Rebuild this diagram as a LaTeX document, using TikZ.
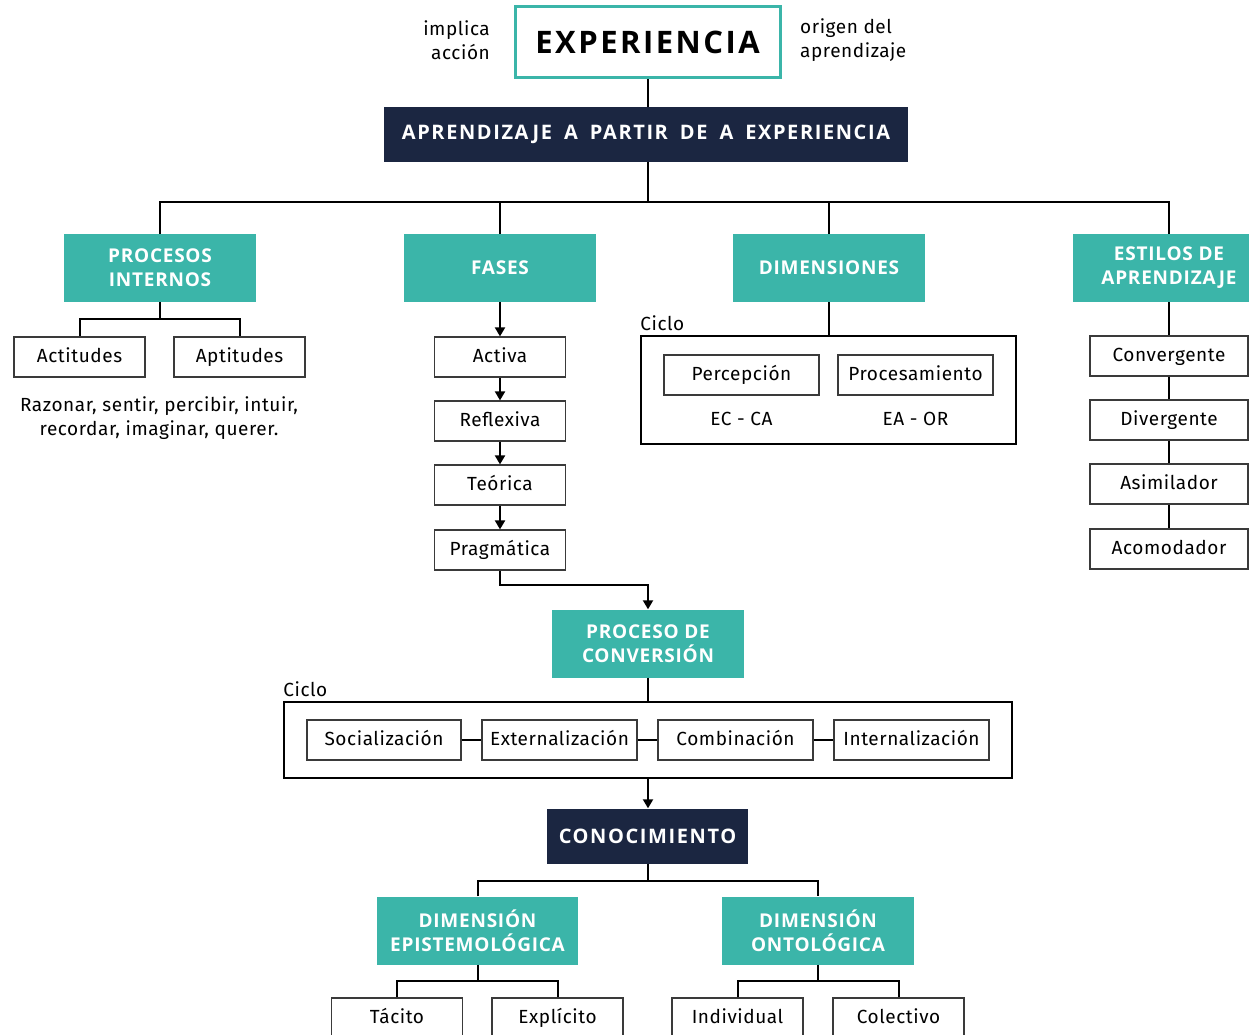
\documentclass[tikz,border=0pt]{standalone}
\usepackage{fontspec}
\setmainfont[LetterSpace=3]{Fira Sans}
\newfontfamily\tealfont[LetterSpace=4]{Open Sans}
\newfontfamily\navyfont[LetterSpace=8]{Open Sans}
\newfontfamily\titlefont[LetterSpace=8]{Open Sans}
\usetikzlibrary{arrows.meta}
\definecolor{tealc}{HTML}{3BB5A9}
\definecolor{navy}{HTML}{1B2641}
\definecolor{boxgray}{HTML}{3A3A3A}
\begin{document}
\begin{tikzpicture}[x=1pt,y=-1pt,
  hdr/.style={fill=navy,text=white,font=\navyfont\bfseries\fontsize{20}{24}\selectfont,minimum height=55,inner sep=0},
  tealbox/.style={fill=tealc,text=white,font=\tealfont\bfseries\fontsize{19}{24}\selectfont,align=center,minimum width=192,minimum height=68,inner sep=0},
  item/.style={draw=boxgray,line width=1.2,fill=white,font=\fontsize{19}{23}\selectfont,minimum width=131,minimum height=40,inner sep=0,text height=15,text depth=4},
  plain/.style={font=\fontsize{19}{24}\selectfont,inner sep=0},
  cyc/.style={draw=black,line width=1.6},
  conn/.style={line width=2,draw=black},
  arr/.style={conn,-{Triangle[length=9,width=10]}}]
\useasboundingbox (0,0) rectangle (1249,1035);
\clip (0,0) rectangle (1249,1035);

% top: experience and its two remarks
\node[draw=tealc,line width=3,minimum width=265,minimum height=71,inner sep=0,
      font=\titlefont\bfseries\fontsize{31}{36}\selectfont] (exp) at (647.5,42.5) {EXPERIENCIA};
\node[plain,align=right,anchor=east] (impl) at (490,40) {implica\\acción};
\node[plain,align=left,anchor=west] (orig) at (800,40) {origen del\\aprendizaje};
\node[hdr,minimum width=524] (apr) at (646,134.5) {\spaceskip=12pt APRENDIZAJE A PARTIR DE A EXPERIENCIA};
\draw[conn] (exp.south) -- (exp.south |- apr.north);

% four branches
\node[tealbox] (pi)  at (160,268) {PROCESOS\\INTERNOS};
\node[tealbox] (fa)  at (500,268) {FASES};
\node[tealbox] (dim) at (829,268) {DIMENSIONES};
\node[tealbox] (est) at (1169,268) {ESTILOS DE\\APRENDIZAJE};
\coordinate (bus1) at (648,202);
\draw[conn] (apr.south -| bus1) -- (bus1);
\draw[conn] (pi.north) |- (bus1) -| (est.north);
\draw[conn] (fa.north) -- (fa.north |- bus1);
\draw[conn] (dim.north) -- (dim.north |- bus1);

% internal processes
\node[item] (act) at (79.5,357) {Actitudes};
\node[item] (apt) at (239.5,357) {Aptitudes};
\coordinate (bus2) at (160,319);
\draw[conn] (pi.south) -- (bus2);
\draw[conn] (act.north) |- (bus2) -| (apt.north);
\node[plain,align=center] (raz) at (159,418) {Razonar, sentir, percibir, intuir,\\recordar, imaginar, querer.};

% phases
\node[item] (activa) at (500,357) {Activa};
\node[item] (refl)   at (500,421) {Reflexiva};
\node[item] (teor)   at (500,485) {Teórica};
\node[item] (prag)   at (500,550) {Pragmática};
\draw[arr] (fa.south) -- (activa.north);
\draw[arr] (activa.south) -- (refl.north);
\draw[arr] (refl.south) -- (teor.north);
\draw[arr] (teor.south) -- (prag.north);

% dimensions cycle
\node[cyc,minimum width=375,minimum height=108,inner sep=0] (cyc1) at (828.5,390) {};
\node[plain,anchor=south west] (cl1) at ([yshift=4]cyc1.north west) {Ciclo};
\draw[conn] (dim.south) -- (cyc1.north -| dim.south);
\node[item,minimum width=155] (perc) at (741.5,375) {Percepción};
\node[item,minimum width=155] (proc) at (915.5,375) {Procesamiento};
\node[plain] (ecca) at (741.5,419) {EC - CA};
\node[plain] (eaor) at (915.5,419) {EA - OR};

% learning styles
\node[item,minimum width=158] (conv) at (1169,356) {Convergente};
\node[item,minimum width=158] (div)  at (1169,420) {Divergente};
\node[item,minimum width=158] (asim) at (1169,484) {Asimilador};
\node[item,minimum width=158] (acom) at (1169,549) {Acomodador};
\draw[conn] (est.south) -- (conv.north);
\draw[conn] (conv.south) -- (div.north);
\draw[conn] (div.south) -- (asim.north);
\draw[conn] (asim.south) -- (acom.north);

% conversion process
\node[tealbox] (pc) at (648,643.5) {PROCESO DE\\CONVERSIÓN};
\coordinate (elb) at (500,585);
\draw[arr] (prag.south) -- (elb) -| (pc.north);
\node[cyc,minimum width=728,minimum height=76,inner sep=0] (cyc2) at (648,740) {};
\node[plain,anchor=south west] (cl2) at ([yshift=4]cyc2.north west) {Ciclo};
\draw[conn] (pc.south) -- (cyc2.north);
\node[item,minimum width=154] (soc) at (384,740) {Socialización};
\node[item,minimum width=155] (ext) at (559.5,740) {Externalización};
\node[item,minimum width=155] (com) at (735.5,740) {Combinación};
\node[item,minimum width=155] (int) at (911.5,740) {Internalización};
\draw[conn] (soc.east) -- (ext.west);
\draw[conn] (ext.east) -- (com.west);
\draw[conn] (com.east) -- (int.west);

% knowledge
\node[hdr,minimum width=201] (con) at (647.5,836) {CONOCIMIENTO};
\draw[arr] (cyc2.south) -- (con.north -| cyc2.south);
\node[tealbox,minimum width=201] (epi) at (477.5,930.5) {DIMENSIÓN\\EPISTEMOLÓGICA};
\node[tealbox] (ont) at (818,930.5) {DIMENSIÓN\\ONTOLÓGICA};
\coordinate (bus3) at (648,881);
\draw[conn] (con.south -| bus3) -- (bus3);
\draw[conn] (epi.north) |- (bus3) -| (ont.north);

\node[item] (tac) at (397,1018) {Tácito};
\node[item] (expl) at (557.5,1018) {Explícito};
\node[item] (ind) at (737.5,1018) {Individual};
\node[item] (col) at (898.5,1018) {Colectivo};
\coordinate (bus4) at (477.5,981);
\coordinate (bus5) at (818,981);
\draw[conn] (epi.south) -- (bus4);
\draw[conn] (tac.north) |- (bus4) -| (expl.north);
\draw[conn] (ont.south) -- (bus5);
\draw[conn] (ind.north) |- (bus5) -| (col.north);
\end{tikzpicture}
\end{document}
